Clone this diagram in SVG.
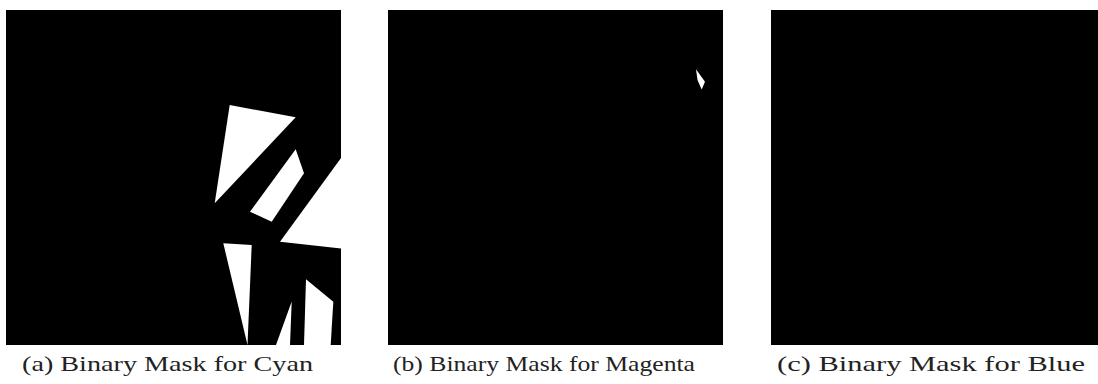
<svg xmlns="http://www.w3.org/2000/svg" width="1098" height="384" viewBox="0 0 1098 384">
<style>
.panel{fill:#000}
.mask{fill:#fff}
.cap{font-family:"Liberation Serif","DejaVu Serif",serif;font-size:22px;fill:#222}
</style>
<rect width="1098" height="384" fill="#fff"/>
<g id="panel-a">
<rect class="panel" x="6" y="10" width="335" height="335"/>
<polygon class="mask" points="229.7,105 295.7,117.3 214.7,203.3"/>
<polygon class="mask" points="295.7,149.3 304,173.3 271.7,221.7 250,211.7"/>
<polygon class="mask" points="341,158 280,241.7 341,248.5"/>
<polygon class="mask" points="223.3,243.3 251.7,245 247.5,345"/>
<polygon class="mask" points="276,345 291.7,301.5 290,345"/>
<polygon class="mask" points="306,279.3 333.3,301.7 330.7,345 304,345"/>
<text class="cap" x="22" y="371" textLength="291" lengthAdjust="spacingAndGlyphs">(a) Binary Mask for Cyan</text>
</g>
<g id="panel-b">
<rect class="panel" x="388" y="10" width="335" height="335"/>
<polygon class="mask" points="696,69.3 705,81.7 701.7,89.5 697.5,80"/>
<text class="cap" x="393" y="371" textLength="302" lengthAdjust="spacingAndGlyphs">(b) Binary Mask for Magenta</text>
</g>
<g id="panel-c">
<rect class="panel" x="771" y="10" width="335" height="335"/>
<text class="cap" x="777" y="371" textLength="308" lengthAdjust="spacingAndGlyphs">(c) Binary Mask for Blue</text>
</g>
<g id="connectors"/>
</svg>
